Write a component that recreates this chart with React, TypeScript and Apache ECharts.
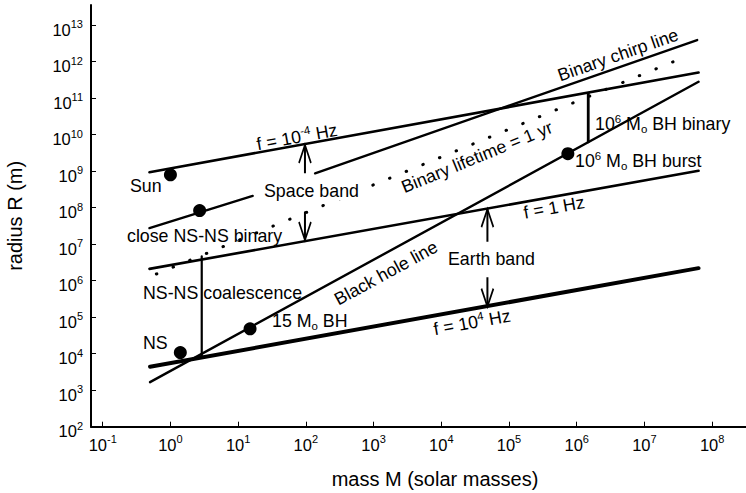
import React, { useEffect, useRef } from "react";
import * as echarts from "echarts";

// axis tick exponents (powers of ten)
const xTickExponents = [-1, 0, 1, 2, 3, 4, 5, 6, 7, 8];
const yTickExponents = [2, 3, 4, 5, 6, 7, 8, 9, 10, 11, 12, 13];

// lines: [mass (solar masses), radius (m)]
const freqLowLine = [[0.49, 9.3e8], [6.3e7, 5.0e11]]; // f = 1e-4 Hz
const freqMidLine = [[0.49, 2.1e6], [6.3e7, 1.02e9]]; // f = 1 Hz
const freqHighLine = [[0.5, 4.4e3], [6.3e7, 2.2e6]]; // f = 1e4 Hz
const blackHoleLine = [[0.5, 1.66e3], [6.3e7, 2.8e11]];
const chirpLineLow = [[0.49, 2.75e7], [16.4, 2.1e8]];
const chirpLineHigh = [[137, 8.7e8], [6.0e7, 3.9e12]];
const lifetimeLine = [[0.53, 1.35e6], [4.2e7, 1.4e12]]; // binary lifetime = 1 yr
const nsCoalescenceLine = [[2.9, 4.6e6], [2.9, 8.3e3]];
const bhBinaryLine = [[1.48e6, 1.35e11], [1.48e6, 6.3e9]];

// sources
const pointNames = ["Sun", "close NS-NS binary", "NS", "15 Mo BH", "1e6 Mo BH burst"];
const pointMasses = [1, 2.7, 1.4, 15, 7.4e5];
const pointRadii = [7.9e8, 8.3e7, 1.07e4, 4.8e4, 3.0e9];

// band arrows
const arrowMasses = [97, 97, 4.8e4, 4.8e4];
const arrowTails = [8.7e8, 7.8e7, 1.17e7, 1.23e6];
const arrowHeads = [5.2e9, 1.3e7, 9.1e7, 1.95e5];

const FONT = "'Liberation Sans', Arial, Helvetica, sans-serif";
const lg = (p: number[]) => [Math.log10(p[0]), Math.log10(p[1])];

const UP_HEAD = "path://M0 18 L6 0 L12 18";
const DOWN_HEAD = "path://M0 0 L6 18 L12 0";

const deg = (d: number) => (d * Math.PI) / 180;

const textRich = {
  n: { fontSize: 17.8, lineHeight: 22, fontFamily: FONT, fill: "#000" },
  s: { fontSize: 11.5, lineHeight: 11, verticalAlign: "top", fontFamily: FONT, fill: "#000" },
  o: { fontSize: 11.5, lineHeight: 11, verticalAlign: "bottom", fontFamily: FONT, fill: "#000" },
};

function label(text: string, x: number, y: number, rotDeg = 0, align = "left", extra: any = {}) {
  return {
    type: "text",
    x,
    y,
    rotation: deg(rotDeg),
    z: 100,
    style: {
      text,
      rich: textRich,
      align,
      verticalAlign: "middle",
      fontSize: 17.8,
      fontFamily: FONT,
      fill: "#000",
      ...extra,
    },
  };
}

export default function App() {
  const ref = useRef<HTMLDivElement>(null);
  useEffect(() => {
    const chart = echarts.init(ref.current!, null, { renderer: "svg" });

    const lineSeries = (data: number[][], width: number, extra: any = {}) => ({
      type: "line",
      data: data.map(lg),
      symbol: "none",
      silent: true,
      lineStyle: { color: "#000", width, cap: "round", ...extra },
      z: 3,
    });

    const arrowSeries = arrowMasses.map((m, i) => {
      const up = arrowHeads[i] > arrowTails[i];
      return {
        type: "line",
        silent: true,
        symbol: up ? UP_HEAD : DOWN_HEAD,
        symbolSize: [12, 18],
        symbolOffset: [0, up ? 9 : -9],
        showSymbol: true,
        data: [
          { value: lg([m, arrowTails[i]]), symbol: "none" },
          { value: lg([m, arrowHeads[i]]) },
        ],
        lineStyle: { color: "#000", width: 2 },
        itemStyle: { color: "rgba(0,0,0,0)", borderColor: "#000", borderWidth: 2 },
        z: 4,
      };
    });

    const tickLabelRich = {
      b: { fontSize: 16.5, lineHeight: 22, fontFamily: FONT, color: "#000" },
      s: { fontSize: 11, lineHeight: 11, verticalAlign: "top", fontFamily: FONT, color: "#000" },
    };
    const fmt = (v: number) => `{b|10}{s|${Math.round(v)}}`;

    const option: any = {
      animation: false,
      grid: { left: 91, right: 0, top: 5, bottom: 66.3, outerBoundsMode: "none" },
      xAxis: {
        type: "value",
        min: -1.173,
        max: 8.5,
        name: "mass M (solar masses)",
        nameLocation: "middle",
        nameGap: 42,
        nameTextStyle: { fontSize: 20, fontFamily: FONT, color: "#000", padding: [0, 0, 0, 33] },
        axisLine: { onZero: false, lineStyle: { color: "#000", width: 2 } },
        axisTick: { inside: true, length: 5, lineStyle: { color: "#000", width: 1 }, customValues: xTickExponents },
        axisLabel: { margin: 7, formatter: fmt, rich: tickLabelRich, customValues: xTickExponents },
        splitLine: { show: false },
      },
      yAxis: {
        type: "value",
        min: 2,
        max: 13.55,
        name: "radius R (m)",
        nameLocation: "middle",
        nameGap: 66,
        nameTextStyle: { fontSize: 20, fontFamily: FONT, color: "#000" },
        axisLine: { onZero: false, lineStyle: { color: "#000", width: 2 } },
        axisTick: { inside: true, length: 5, lineStyle: { color: "#000", width: 1 }, customValues: yTickExponents },
        axisLabel: { margin: 8, formatter: fmt, rich: tickLabelRich, padding: [9, 0, 0, 0], customValues: yTickExponents },
        splitLine: { show: false },
      },
      series: [
        lineSeries(freqLowLine, 2.6),
        lineSeries(freqMidLine, 2.6),
        lineSeries(freqHighLine, 4),
        lineSeries(blackHoleLine, 2.4),
        lineSeries(chirpLineLow, 2.4),
        lineSeries(chirpLineHigh, 2.4),
        lineSeries(lifetimeLine, 3, { type: [0.5, 17.5], dashOffset: 13 }),
        lineSeries(nsCoalescenceLine, 2.2),
        lineSeries(bhBinaryLine, 2.8),
        {
          type: "scatter",
          silent: true,
          symbolSize: 13,
          itemStyle: { color: "#000", opacity: 1 },
          data: pointMasses.map((m, i) => ({ name: pointNames[i], value: lg([m, pointRadii[i]]) })),
          z: 5,
        },
        ...arrowSeries,
      ],
      graphic: [
        label("Sun", 130, 186),
        label("close NS-NS binary", 127, 235.5),
        label("Space band", 262, 191, 0, "left", { backgroundColor: "#fff", padding: [0, 2] }),
        label("NS-NS coalescence", 143, 292.5),
        label("NS", 143, 343),
        label("{n|15 M}{o|o}{n| BH}", 272, 321),
        label("{n|10}{s|6}{n| M}{o|o}{n| BH binary}", 595, 124),
        label("{n|10}{s|6}{n| M}{o|o}{n| BH burst}", 575, 161),
        label("Earth band", 448, 259),
        label("{n|f = 10}{s|-4}{n| Hz}", 297, 137, 10.2, "center"),
        label("{n|f = 1 Hz}", 554, 207.5, 10.2, "center"),
        label("{n|f = 10}{s|4}{n| Hz}", 472, 322.5, 10.2, "center"),
        label("Black hole line", 386, 273, 28.7, "center"),
        label("Binary chirp line", 618, 55, 19.2, "center"),
        label("Binary lifetime = 1 yr", 477, 157, 22.3, "center"),
      ],
    };

    chart.setOption(option);
    return () => chart.dispose();
  }, []);
  return (
    <div
      ref={ref}
      style={{ position: "absolute", left: 0, top: 0, width: 746, height: 493, background: "#fff" }}
    />
  );
}
